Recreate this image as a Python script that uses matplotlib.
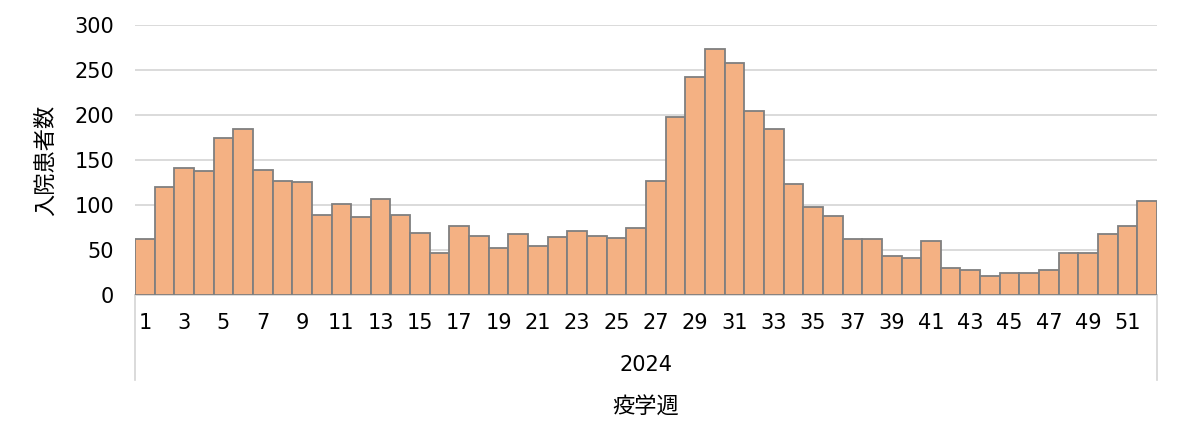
import matplotlib.pyplot as plt

plt.rcParams['font.family'] = ['DejaVu Sans', 'Noto Sans CJK JP']

# weekly hospitalisations, 2024
weeks = list(range(1, 53))
patients = [62, 120, 141, 138, 175, 184, 139, 127, 126, 89,
            101, 87, 107, 89, 69, 47, 77, 66, 52, 68,
            54, 64, 71, 66, 63, 74, 127, 198, 242, 273,
            258, 204, 185, 123, 98, 88, 62, 62, 43, 41,
            60, 30, 28, 21, 24, 25, 28, 47, 47, 68,
            77, 104]
year_label = "2024"
x_title = "疫学週"
y_title = "入院患者数"

fig = plt.figure(figsize=(11.81, 4.48), dpi=100)
ax = fig.add_axes([135 / 1181, 1 - 295 / 448, (1157 - 135) / 1181, 270 / 448])

ax.bar(weeks, patients, width=1.0, color="#F4B183", edgecolor="#7F7F7F",
       linewidth=1.3, zorder=3)

ax.set_xlim(0.5, 52.5)
ax.set_ylim(0, 300)
ax.set_yticks(range(0, 301, 50))
ax.grid(axis="y", color="#D4D4D4", linewidth=1.2, zorder=0)
ax.set_xticks(weeks)
ax.set_xticklabels([str(w) if w % 2 == 1 else "" for w in weeks])
ax.tick_params(axis="both", length=0, labelsize=15, colors="black")
ax.tick_params(axis="x", pad=13)
ax.tick_params(axis="y", pad=15)

for s in ["top", "right", "left"]:
    ax.spines[s].set_visible(False)
ax.spines["bottom"].set_color("#D4D4D4")
ax.spines["bottom"].set_linewidth(1.2)

# category group separators
for xa in [0, 1]:
    ax.plot([xa, xa], [0, -85 / 270], transform=ax.transAxes, color="#D4D4D4",
            linewidth=1.2, clip_on=False)

ax.text(0.5, -70 / 270, year_label, transform=ax.transAxes, ha="center",
        va="center", fontsize=15)
ax.text(0.5, -112 / 270, x_title, transform=ax.transAxes, ha="center",
        va="center", fontsize=16)
fig.text(45 / 1181, 1 - 160 / 448, y_title, rotation=90, ha="center",
         va="center", fontsize=16)

fig.savefig("out.png", dpi=100)
